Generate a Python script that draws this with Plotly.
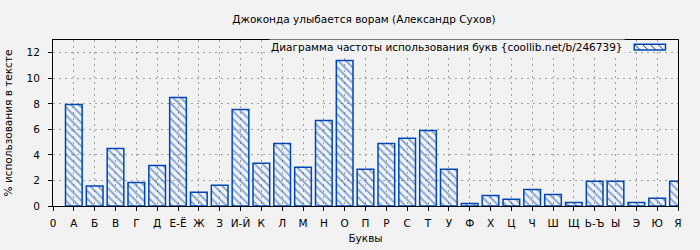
import plotly.graph_objects as go

letters = ["А", "Б", "В", "Г", "Д", "Е-Ё", "Ж", "З", "И-Й", "К", "Л", "М", "Н", "О", "П",
           "Р", "С", "Т", "У", "Ф", "Х", "Ц", "Ч", "Ш", "Щ", "Ь-Ъ", "Ы", "Э", "Ю", "Я"]
values = [7.95, 1.56, 4.51, 1.85, 3.18, 8.5, 1.07, 1.62, 7.56, 3.34, 4.9, 3.03, 6.7, 11.4, 2.87,
          4.9, 5.3, 5.92, 2.87, 0.2, 0.83, 0.52, 1.3, 0.91, 0.28, 1.93, 1.93, 0.28, 0.6, 1.93]
categories = ["0"] + letters
y_ticks = [0, 2, 4, 6, 8, 10, 12]

title = "Джоконда улыбается ворам (Александр Сухов)"
series_name = "Диаграмма частоты использования букв {coollib.net/b/246739}"

BLUE = "#0047b4"
BG = "#f2f2f2"
FONT = "DejaVu Sans"
FS = 10.5

fig = go.Figure()
fig.add_trace(go.Bar(
    x=letters, y=values, name=series_name, width=0.8,
    marker=dict(color="rgba(0,0,0,0)", line=dict(color=BLUE, width=1.5),
                pattern=dict(shape="\\", fgcolor=BLUE, bgcolor="rgba(0,0,0,0)",
                             size=5.5, solidity=0.3)),
    showlegend=False,
))

grid = dict(showgrid=True, gridcolor="#a0a0a0", gridwidth=1, griddash="2px,4px")

fig.update_layout(
    width=700, height=250,
    paper_bgcolor=BG, plot_bgcolor=BG,
    margin=dict(l=53, r=22, t=40, b=44, autoexpand=False),
    font=dict(family=FONT, size=FS, color="#000"),
    title=dict(text=title, x=0.52, xanchor="center", y=0.922, yanchor="middle",
               font=dict(size=FS)),
    xaxis=dict(type="category", categoryorder="array", categoryarray=categories,
               range=[0, 30], tickmode="array", tickvals=categories, ticktext=categories,
               ticks="outside", ticklen=4, tickcolor="#000", ticklabelstandoff=3,
               showline=True, linecolor="#000", linewidth=1, mirror=True, automargin=False,
               title=dict(text="Буквы", font=dict(size=FS), standoff=7),
               zeroline=False, **grid),
    yaxis=dict(range=[0, 13], tickvals=y_ticks, ticks="outside", ticklen=4, tickcolor="#000",
               ticklabelstandoff=6, automargin=False,
               showline=True, linecolor="#000", linewidth=1, mirror=True,
               title=dict(text="% использования в тексте", font=dict(size=FS), standoff=11),
               zeroline=False, **grid),
    bargap=0.2,
)

# legend replica: text + hatched sample box
fig.add_annotation(text=series_name, xref="paper", yref="paper", x=0.915, y=0.955,
                   xanchor="right", yanchor="middle", showarrow=False,
                   font=dict(size=FS), bgcolor=BG)
x0, x1 = 0.93, 0.98
y0, y1 = 0.94, 0.975
fig.add_shape(type="rect", xref="paper", yref="paper", x0=x0, x1=x1, y0=y0, y1=y1,
              line=dict(color=BLUE, width=1.5), fillcolor=BG)
n = 4
for i in range(n):
    xs = x0 + (x1 - x0) * i / n
    fig.add_shape(type="line", xref="paper", yref="paper", x0=xs, x1=xs + 0.0095,
                  y0=y1, y1=y0, line=dict(color=BLUE, width=1))

fig.write_html("out.html")
